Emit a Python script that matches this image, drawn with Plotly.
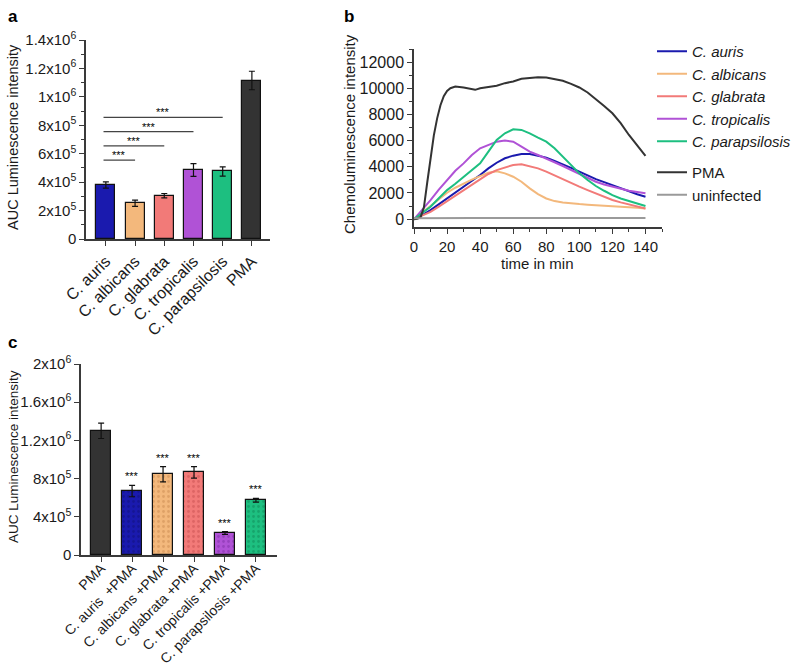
import plotly.graph_objects as go

# ---------------- data ----------------
# Panel a: AUC luminescence
cats_a = ["C. auris", "C. albicans", "C. glabrata", "C. tropicalis", "C. parapsilosis", "PMA"]
vals_a = [3.8e5, 2.52e5, 3.05e5, 4.85e5, 4.75e5, 1.115e6]
err_a = [0.22e5, 0.22e5, 0.15e5, 0.45e5, 0.33e5, 0.65e5]
colors_a = ["#1a1aae", "#f3b87c", "#f27a78", "#b052d6", "#1dbf80", "#333333"]
sig_a_targets = [1, 2, 3, 4]
sig_a_heights = [5.55e5, 6.55e5, 7.55e5, 8.55e5]

# Panel b: kinetics
time_b = [0, 5, 10, 15, 20, 25, 30, 35, 40, 45, 50, 55, 60, 65, 70, 75, 80, 85, 90, 95,
          100, 105, 110, 115, 120, 125, 130, 135, 140]
auris_b = [0, 300, 690, 1130, 1580, 2000, 2430, 2900, 3370, 3880, 4310, 4650, 4850, 4980, 4980,
           4850, 4700, 4450, 4210, 3920, 3630, 3340, 3060, 2830, 2600, 2350, 2090, 1900, 1710]
albicans_b = [0, 500, 1070, 1550, 2020, 2400, 2730, 3020, 3290, 3550, 3650, 3500, 3240, 2860, 2350,
              1910, 1580, 1380, 1280, 1200, 1150, 1100, 1070, 1040, 1000, 970, 940, 880, 820]
glabrata_b = [0, 250, 560, 960, 1380, 1800, 2220, 2600, 2990, 3450, 3750, 3960, 4140, 4190, 4060,
              3880, 3630, 3330, 3040, 2750, 2480, 2220, 1970, 1710, 1460, 1280, 1120, 960, 820]
tropicalis_b = [0, 700, 1450, 2250, 3000, 3700, 4260, 4900, 5410, 5670, 5920, 6000, 5920, 5540, 5160,
                4900, 4650, 4350, 4060, 3750, 3450, 3150, 2860, 2650, 2480, 2300, 2170, 2070, 1970]
parapsilosis_b = [0, 450, 950, 1600, 2220, 2700, 3240, 3750, 4260, 5160, 6050, 6560, 6870, 6820, 6560,
                  6230, 5920, 5410, 4770, 4140, 3500, 2990, 2530, 2170, 1840, 1580, 1380, 1200, 1000]
uninfected_b = [60, 70, 75, 80, 80, 80, 85, 80, 80, 85, 80, 80, 85, 80, 80,
                80, 85, 80, 80, 80, 85, 80, 80, 80, 85, 80, 80, 80, 80]
time_pma = [0, 2, 4, 6, 8, 10, 12, 14, 16, 18, 20, 22, 25, 30, 35, 37, 40, 45, 50, 55, 60, 65,
            70, 75, 80, 85, 90, 95, 100, 105, 110, 115, 120, 125, 130, 135, 140]
pma_b = [0, 30, 150, 900, 2800, 4700, 6400, 7700, 8700, 9400, 9800, 10000, 10130, 10050, 9930,
         9880, 10000, 10080, 10190, 10390, 10520, 10720, 10770, 10850, 10820, 10720, 10570,
         10340, 10060, 9680, 9190, 8650, 8090, 7330, 6430, 5670, 4830]
names_b = ["C. auris", "C. albicans", "C. glabrata", "C. tropicalis", "C. parapsilosis"]
colors_b = ["#1a1aae", "#f3b87c", "#f27a78", "#b052d6", "#1dbf80"]
yticks_b = [0, 2000, 4000, 6000, 8000, 10000, 12000]
xticks_b = [0, 20, 40, 60, 80, 100, 120, 140]

# Panel c: AUC with PMA
cats_c = ["PMA", "C. auris  +PMA", "C. albicans +PMA", "C. glabrata +PMA",
          "C. tropicalis +PMA", "C. parapsilosis +PMA"]
vals_c = [1.30e6, 0.67e6, 0.845e6, 0.866e6, 0.23e6, 0.573e6]
err_c = [0.08e6, 0.06e6, 0.08e6, 0.06e6, 0.015e6, 0.02e6]
colors_c = ["#333333", "#1a1aae", "#f3b87c", "#f27a78", "#b052d6", "#1dbf80"]
dots_c = ["#333333", "#10107a", "#c98a50", "#c85050", "#7e2ea6", "#108a58"]
sig_c = ["", "***", "***", "***", "***", "***"]

W, H = 800, 666
FONT = "Liberation Sans, Arial, sans-serif"
AX = "#3a3a3a"
TXT = "#1a1a1a"

def px_x(p):
    return p / W

def px_y(p):
    return 1 - p / H

fig = go.Figure()

# ---- panel a ----
fig.add_trace(go.Bar(
    x=list(range(len(cats_a))), y=vals_a, width=0.65,
    marker=dict(color=colors_a, line=dict(color="#111111", width=1.2)),
    error_y=dict(type="data", array=err_a, color="#111111", thickness=1.2, width=3),
    xaxis="x", yaxis="y", showlegend=False))

# ---- panel b ----
for name, vals, col in zip(names_b, [auris_b, albicans_b, glabrata_b, tropicalis_b, parapsilosis_b], colors_b):
    fig.add_trace(go.Scatter(x=time_b, y=vals, mode="lines", name="<i>" + name + "</i>",
                             line=dict(color=col, width=2), xaxis="x2", yaxis="y2",
                             legend="legend", legendgroup=name))
fig.add_trace(go.Scatter(x=time_pma, y=pma_b, mode="lines", name="PMA",
                         line=dict(color="#333333", width=2), xaxis="x2", yaxis="y2",
                         legend="legend2", legendgroup="pma"))
fig.add_trace(go.Scatter(x=time_b, y=uninfected_b, mode="lines", name="uninfected",
                         line=dict(color="#9a9a9a", width=2), xaxis="x2", yaxis="y2",
                         legend="legend2", legendgroup="uninf"))

# ---- panel c ----
for i in range(len(cats_c)):
    pat = dict(shape="") if i == 0 else dict(shape=".", fgcolor=dots_c[i], size=5, solidity=0.25)
    fig.add_trace(go.Bar(
        x=[i], y=[vals_c[i]], width=0.65,
        marker=dict(color=colors_c[i], line=dict(color="#111111", width=1.2), pattern=pat),
        error_y=dict(type="data", array=[err_c[i]], color="#111111", thickness=1.2, width=3),
        xaxis="x3", yaxis="y3", showlegend=False))

annotations = []
shapes = []

# significance lines panel a
for t, h in zip(sig_a_targets, sig_a_heights):
    shapes.append(dict(type="line", xref="x", yref="y", x0=-0.08, x1=t, y0=h, y1=h,
                       line=dict(color="#444444", width=1.3)))
    annotations.append(dict(xref="x", yref="y", x=(t - 0.08) / 2, y=h, text="***",
                            showarrow=False, yanchor="bottom", yshift=-3,
                            font=dict(size=11, color="#000000", family=FONT)))

# stars panel c
for i, s in enumerate(sig_c):
    if s:
        annotations.append(dict(xref="x3", yref="y3", x=i, y=vals_c[i] + err_c[i], text=s,
                                showarrow=False, yanchor="bottom", yshift=1,
                                font=dict(size=11, color="#000000", family=FONT)))

# panel letters
for lab, x, y in [("a", 6, 16), ("b", 342, 16), ("c", 6, 342)]:
    annotations.append(dict(xref="paper", yref="paper", x=px_x(x), y=px_y(y), text="<b>" + lab + "</b>",
                            showarrow=False, xanchor="left", yanchor="middle",
                            font=dict(size=17, color="#000000", family=FONT)))

# axis titles
annotations.append(dict(xref="paper", yref="paper", x=px_x(13), y=px_y(137),
                        text="AUC Luminescence intensity", textangle=-90, showarrow=False,
                        xanchor="center", yanchor="middle", font=dict(size=14.5, color=TXT, family=FONT)))
annotations.append(dict(xref="paper", yref="paper", x=px_x(13), y=px_y(457),
                        text="AUC Luminescence intensity", textangle=-90, showarrow=False,
                        xanchor="center", yanchor="middle", font=dict(size=13.5, color=TXT, family=FONT)))
annotations.append(dict(xref="paper", yref="paper", x=px_x(349), y=px_y(134),
                        text="Chemoluminescence intensity", textangle=-90, showarrow=False,
                        xanchor="center", yanchor="middle", font=dict(size=15, color=TXT, family=FONT)))
annotations.append(dict(xref="paper", yref="paper", x=px_x(537), y=px_y(263),
                        text="time in min", showarrow=False,
                        xanchor="center", yanchor="middle", font=dict(size=15, color=TXT, family=FONT)))

def sci(v):
    if v == 0:
        return "0"
    e = 0
    m = v
    while m >= 10:
        m /= 10
        e += 1
    ms = ("%g" % round(m, 2))
    return ms + "x10<sup>%d</sup>" % e

ytick_a = [0, 2e5, 4e5, 6e5, 8e5, 1e6, 1.2e6, 1.4e6]
ytick_c = [0, 4e5, 8e5, 1.2e6, 1.6e6, 2e6]

axis_common = dict(showline=True, linecolor=AX, linewidth=1.5, ticks="outside", ticklen=5,
                   tickwidth=1.3, tickcolor=AX, showgrid=False, zeroline=False, automargin=False,
                   tickfont=dict(size=14, color=TXT, family=FONT))

fig.update_layout(
    width=W, height=H, margin=dict(l=0, r=0, t=0, b=0, pad=0, autoexpand=False),
    paper_bgcolor="white", plot_bgcolor="white",
    font=dict(family=FONT, color=TXT, size=14),
    bargap=0,
    xaxis=dict(axis_common, domain=[px_x(86), px_x(270)], range=[-0.68, 5.62], anchor="y",
               tickvals=list(range(6)), ticktext=cats_a, tickangle=-45,
               tickfont=dict(size=16, color=TXT, family=FONT)),
    yaxis=dict(axis_common, domain=[px_y(239), px_y(40)], range=[0, 1.4e6], anchor="x",
               tickvals=ytick_a, ticktext=[sci(v) for v in ytick_a],
               tickfont=dict(size=15, color=TXT, family=FONT),
               minor=dict(ticks="outside", ticklen=3, tickcolor=AX, tickmode="linear", tick0=0, dtick=1e5)),
    xaxis2=dict(axis_common, domain=[px_x(414), px_x(662)], range=[0, 150], anchor="y2",
                tickvals=xticks_b, ticktext=[str(v) for v in xticks_b],
                tickfont=dict(size=15, color=TXT, family=FONT),
                minor=dict(ticks="outside", ticklen=3, tickcolor=AX, tickmode="linear", tick0=0, dtick=10)),
    yaxis2=dict(axis_common, domain=[px_y(227), px_y(49)], range=[-600, 13000], anchor="x2",
                tickvals=yticks_b, ticktext=[str(v) for v in yticks_b],
                tickfont=dict(size=16, color=TXT, family=FONT),
                minor=dict(ticks="outside", ticklen=3, tickcolor=AX, tickmode="linear", tick0=0, dtick=1000)),
    xaxis3=dict(axis_common, domain=[px_x(81), px_x(277)], range=[-0.65, 5.68], anchor="y3",
                tickvals=list(range(6)), ticktext=cats_c, tickangle=-45, ticklabelstandoff=-7,
                tickfont=dict(size=14, color=TXT, family=FONT)),
    yaxis3=dict(axis_common, domain=[px_y(555), px_y(364)], range=[0, 2e6], anchor="x3",
                tickvals=ytick_c, ticktext=[sci(v) for v in ytick_c],
                tickfont=dict(size=15, color=TXT, family=FONT)),
    legend=dict(x=652 / W, y=px_y(35), xanchor="left", yanchor="top",
                font=dict(size=15, color=TXT, family=FONT), bgcolor="rgba(0,0,0,0)",
                tracegroupgap=0, itemwidth=30),
    legend2=dict(x=652 / W, y=px_y(156), xanchor="left", yanchor="top",
                 font=dict(size=15, color=TXT, family=FONT), bgcolor="rgba(0,0,0,0)",
                 tracegroupgap=0, itemwidth=30),
    annotations=annotations, shapes=shapes,
)

fig.write_html("out.html", config={"displayModeBar": False},
               post_script="document.body.style.margin='0px';")
